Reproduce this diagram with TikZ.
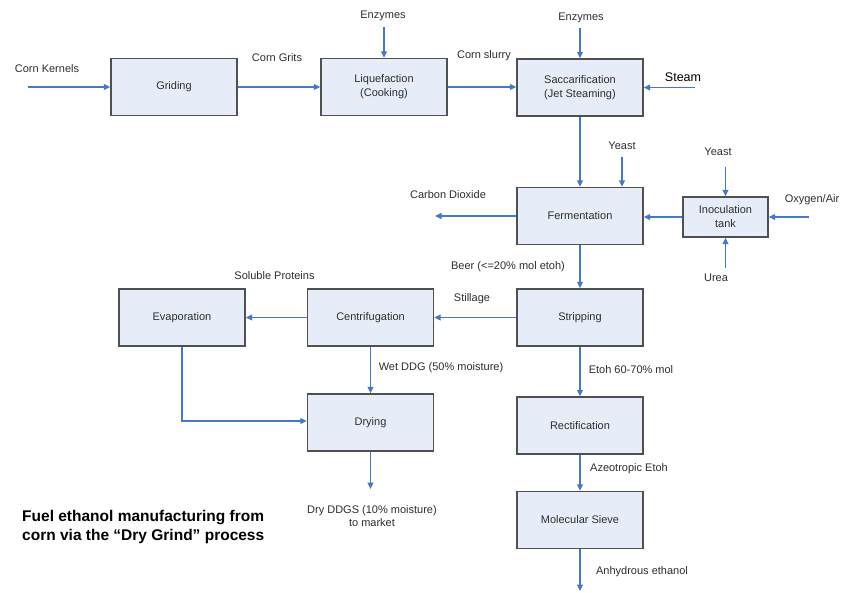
\documentclass[tikz,border=0pt]{standalone}
\usepackage{fontspec}
\setmainfont{Liberation Sans}
\usetikzlibrary{arrows.meta}
\definecolor{boxfill}{RGB}{231,237,248}
\definecolor{boxline}{RGB}{80,80,80}
\definecolor{flow}{RGB}{70,120,200}
\definecolor{txt}{RGB}{45,45,45}
\begin{document}
\begin{tikzpicture}[x=1pt,y=-1pt,
  stage/.style={draw=boxline, line width=1.4pt, fill=boxfill, minimum width=126pt, minimum height=57pt,
    inner sep=1pt, align=center, text=txt, font=\fontsize{11}{14}\selectfont},
  lbl/.style={text=txt, font=\fontsize{11}{13}\selectfont, inner sep=0pt, align=center},
  flowline/.style={draw=flow, line width=1.4pt, -{Triangle[length=6.5pt,width=6pt]}}]
\useasboundingbox (0,0) rectangle (841,592);
% boxes
\node[stage] (grid) at (174,87) {Griding};
\node[stage] (liq) at (384,87) {Liquefaction\\(Cooking)};
\node[stage] (sacc) at (580,87.5) {Saccarification\\(Jet Steaming)};
\node[stage] (ferm) at (580,216) {Fermentation};
\node[stage, minimum width=85pt, minimum height=40pt] (inoc) at (725.5,217) {Inoculation\\tank};
\node[stage] (strip) at (580,317.5) {Stripping};
\node[stage] (centr) at (370.5,317.5) {Centrifugation};
\node[stage] (evap) at (182,317.5) {Evaporation};
\node[stage] (dry) at (370.5,422.5) {Drying};
\node[stage] (rect) at (580,425.5) {Rectification};
\node[stage] (mol) at (580,520) {Molecular Sieve};
% free ends
\coordinate (ck) at (28,87);
\coordinate (enz1) at (384,27);
\coordinate (enz2) at (580,28);
\coordinate (stm) at (695,87.5);
\coordinate (yst1) at (622,157);
\coordinate (yst2) at (725.5,167);
\coordinate (ure) at (725.5,268);
\coordinate (oxy) at (809,217);
\coordinate (co2) at (435,216);
\coordinate (bend) at (182,421);
\coordinate (ddgs) at (370.5,489);
\coordinate (anh) at (580,591);
% connectors
\draw[flowline] (ck) -- (grid.west);
\draw[flowline] (grid.east) -- (grid.east -| liq.west);
\draw[flowline] (enz1) -- (liq.north);
\draw[flowline] (liq.east) -- (liq.east -| sacc.west);
\draw[flowline] (enz2) -- (sacc.north);
\draw[flowline] (stm) -- (sacc.east);
\draw[flowline] (sacc.south) -- (ferm.north);
\draw[flowline] (yst1) -- (yst1 |- ferm.north);
\draw[flowline] (inoc.west) -- (inoc.west -| ferm.east);
\draw[flowline] (yst2) -- (inoc.north);
\draw[flowline] (ure) -- (inoc.south);
\draw[flowline] (oxy) -- (inoc.east);
\draw[flowline] (ferm.west) -- (co2);
\draw[flowline] (ferm.south) -- (strip.north);
\draw[flowline] (strip.west) -- (centr.east);
\draw[flowline] (centr.west) -- (evap.east);
\draw[flowline] (centr.south) -- (dry.north);
\draw[flowline] (evap.south) -- (bend) -- (bend -| dry.west);
\draw[flowline] (dry.south) -- (ddgs);
\draw[flowline] (strip.south) -- (rect.north);
\draw[flowline] (rect.south) -- (mol.north);
\draw[flowline] (mol.south) -- (anh);
% labels
\node[lbl] (lck) at (47,69) {Corn Kernels};
\node[lbl] (lenz1) at (383,16) {Enzymes};
\node[lbl] (lcg) at (277,58) {Corn Grits};
\node[lbl] (lcs) at (484,56) {Corn slurry};
\node[lbl] (lenz2) at (581,18) {Enzymes};
\node[lbl, font=\fontsize{12.5}{14}\selectfont, text=black] (lstm) at (683,77) {Steam};
\node[lbl] (lyst1) at (622,146) {Yeast};
\node[lbl] (lco2) at (448,195) {Carbon Dioxide};
\node[lbl] (lyst2) at (718,152) {Yeast};
\node[lbl] (loxy) at (812,200) {Oxygen/Air};
\node[lbl] (lure) at (716,278) {Urea};
\node[lbl] (lbeer) at (508,267) {Beer (<=20\% mol etoh)};
\node[lbl] (lsol) at (274.5,276) {Soluble Proteins};
\node[lbl] (lstill) at (472,299) {Stillage};
\node[lbl] (lwet) at (441,368) {Wet DDG (50\% moisture)};
\node[lbl] (letoh) at (631,370) {Etoh 60-70\% mol};
\node[lbl] (lazeo) at (629,469) {Azeotropic Etoh};
\node[lbl] (lddgs) at (372,516.5) {Dry DDGS (10\% moisture)\\to market};
\node[lbl] (lanh) at (642,572) {Anhydrous ethanol};
\node[anchor=west, inner sep=0pt, align=left, text=black, font=\fontsize{15.5}{19}\bfseries\selectfont] (title) at (22,527)
  {Fuel ethanol manufacturing from\\corn via the “Dry Grind” process};
\end{tikzpicture}
\end{document}
